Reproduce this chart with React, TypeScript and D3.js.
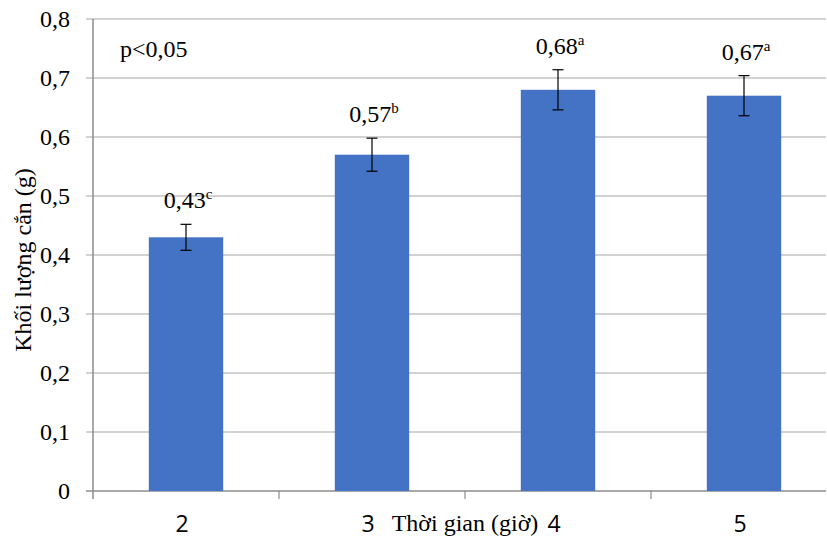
import React from 'react';
import * as d3 from 'd3';

const categories = ['2', '3', '4', '5'];
const values = [0.43, 0.57, 0.68, 0.67];
const errors = [0.022, 0.028, 0.034, 0.034];
const letters = ['c', 'b', 'a', 'a'];
const yTicks = [0, 0.1, 0.2, 0.3, 0.4, 0.5, 0.6, 0.7, 0.8];

const W = 827;
const H = 539;
const serif = "'Liberation Serif', 'Times New Roman', Tinos, 'DejaVu Serif', serif";
const sans = "'Open Sans', 'Liberation Sans', sans-serif";

const App = () => {
  const margin = { top: 19, right: -10, bottom: 48, left: 93 };
  const x = d3.scaleBand()
    .domain(categories)
    .range([margin.left, W - margin.right])
    .paddingInner(0.6)
    .paddingOuter(0.3);
  const band = d3.scaleBand().domain(categories).range([margin.left, W - margin.right]);
  const y = d3.scaleLinear().domain([0, 0.8]).range([H - margin.bottom, margin.top]);
  const fmt = (v: number) => String(+v.toFixed(2)).replace('.', ',');
  const cap = 5.5;
  const gridRight = 826;
  const serifStyle = { fontFamily: serif };

  return (
    <svg width={W} height={H} style={{ position: 'absolute', left: 0, top: 0, background: '#fff' }}>
      {yTicks.map(t => (
        <g key={t}>
          <line x1={margin.left - 7} x2={gridRight} y1={y(t)} y2={y(t)}
            stroke={t === 0 ? '#8c8c8c' : '#a6a6a6'} strokeWidth={t === 0 ? 1.5 : 1.2} />
          <text x={70} y={y(t)} dy="0.35em" textAnchor="end" style={serifStyle} fontSize={24} fill="#000">
            {fmt(t)}
          </text>
        </g>
      ))}
      <line x1={margin.left} x2={margin.left} y1={y(0.8)} y2={y(0) + 8} stroke="#8c8c8c" strokeWidth={1.5} />
      {categories.map(c => (
        <line key={'t' + c} x1={band(c)! + band.bandwidth()} x2={band(c)! + band.bandwidth()}
          y1={y(0)} y2={y(0) + 8} stroke="#8c8c8c" strokeWidth={1.2} />
      ))}
      {categories.map((c, i) => {
        const cx = x(c)! + x.bandwidth() / 2;
        const top = y(values[i] + errors[i]);
        const bot = y(values[i] - errors[i]);
        return (
          <g key={c}>
            <rect x={x(c)} y={y(values[i])} width={x.bandwidth()} height={y(0) - y(values[i])} fill="#4472C4" />
            <line x1={cx} x2={cx} y1={top} y2={bot} stroke="#000" strokeWidth={1.2} />
            <line x1={cx - cap} x2={cx + cap} y1={top} y2={top} stroke="#000" strokeWidth={1.2} />
            <line x1={cx - cap} x2={cx + cap} y1={bot} y2={bot} stroke="#000" strokeWidth={1.2} />
            <text x={cx + 2} y={top - 16} textAnchor="middle" style={serifStyle} fontSize={24} fill="#000">
              {fmt(values[i])}
              <tspan fontSize={15} dy={-9}>{letters[i]}</tspan>
            </text>
            <text x={cx - 4} y={532} textAnchor="middle" style={{ fontFamily: sans }} fontSize={23} fill="#000">{c}</text>
          </g>
        );
      })}
      <text x={120} y={57} style={serifStyle} fontSize={24} fill="#000">p&lt;0,05</text>
      <text x={465} y={531} textAnchor="middle" style={serifStyle} fontSize={24} fill="#000">Thời gian (giờ)</text>
      <text transform={`translate(31,260) rotate(-90)`} textAnchor="middle" style={serifStyle} fontSize={24} fill="#000">
        Khối lượng cắn (g)
      </text>
    </svg>
  );
};

export default App;
